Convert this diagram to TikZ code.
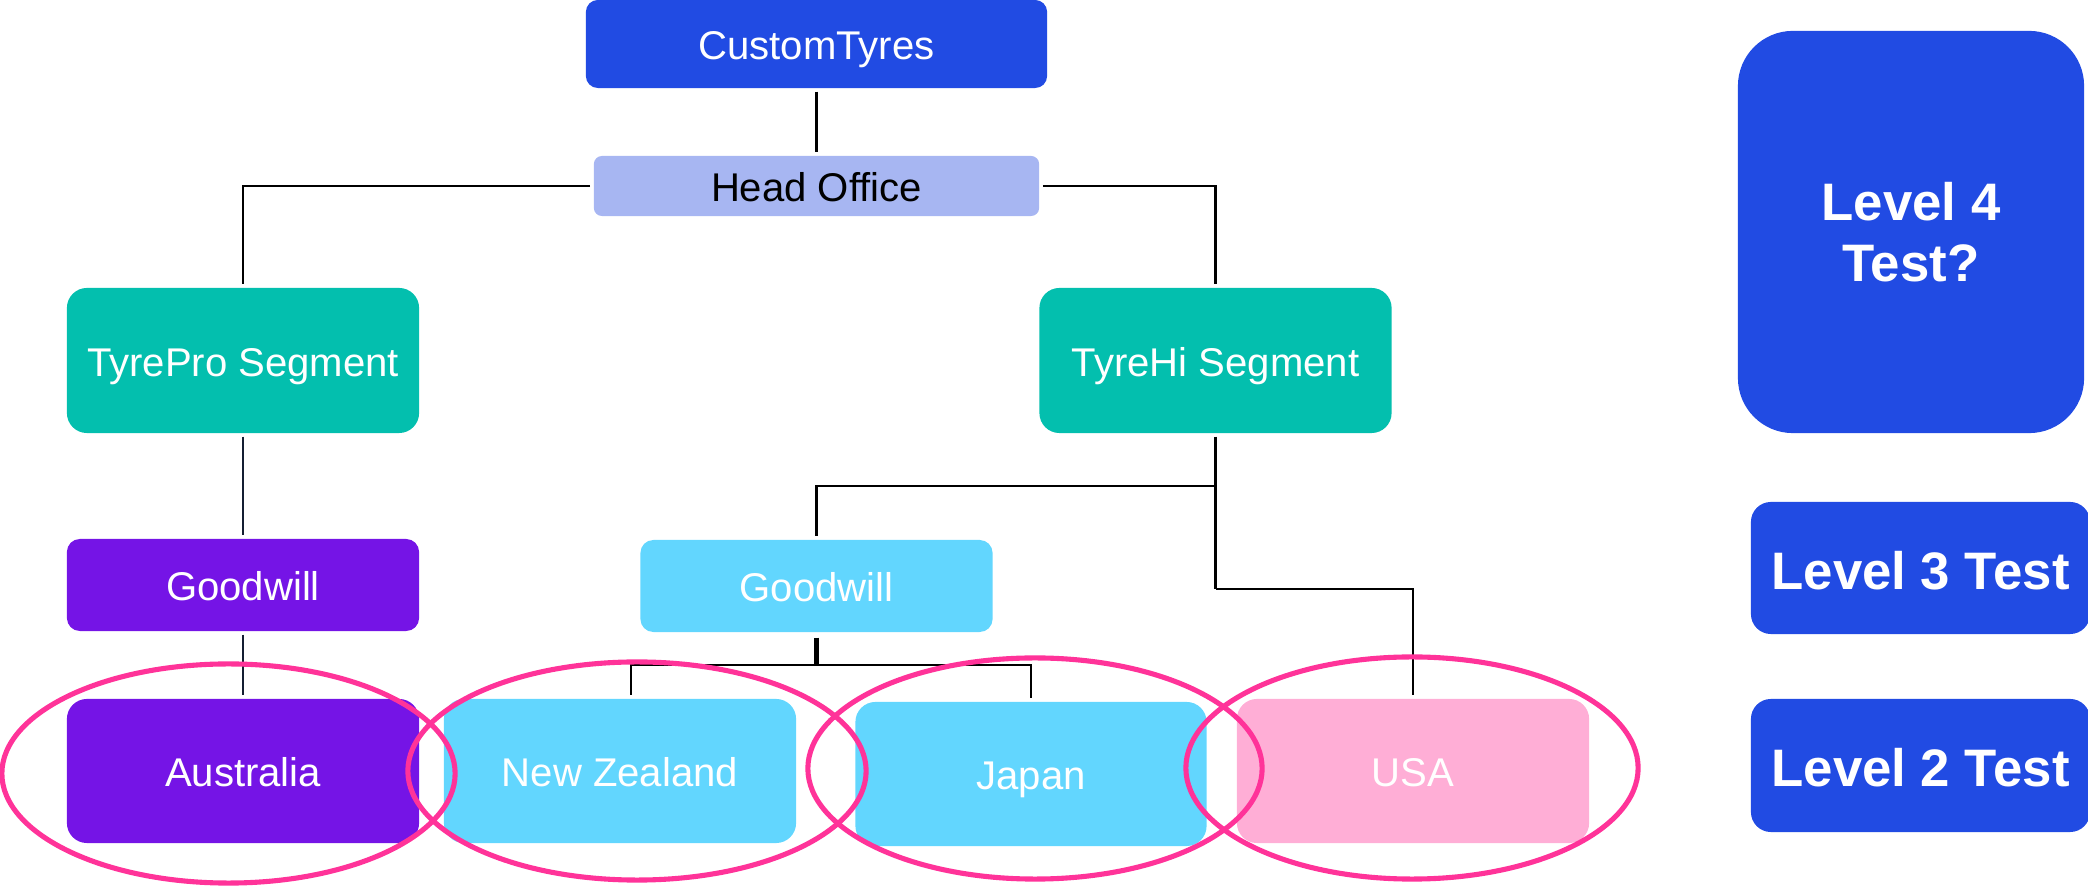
\documentclass[tikz,border=0pt]{standalone}
\usepackage{fontspec}
\setmainfont{Liberation Sans}
\definecolor{ctblue}{RGB}{33,75,227}
\definecolor{hoblue}{RGB}{167,182,242}
\definecolor{segteal}{RGB}{3,191,174}
\definecolor{gwpurple}{RGB}{117,20,230}
\definecolor{gwsky}{RGB}{98,214,254}
\definecolor{usapink}{RGB}{255,174,214}
\definecolor{ringpink}{RGB}{255,51,153}
\definecolor{navyline}{RGB}{20,30,50}
\begin{document}
\begin{tikzpicture}[x=0.01cm,y=-0.01cm,
  box/.style={rectangle, inner sep=0pt, text=white, align=center,
    font=\fontsize{11.4}{13.7}\selectfont},
  oneline/.style={text height=11.9pt, text depth=2.8pt},
  bigline/.style={text height=15.75pt, text depth=3.75pt},
  unit/.style={box, oneline, minimum width=3.52cm, minimum height=1.45cm, rounded corners=0.2cm},
  gw/.style={box, oneline, minimum width=3.52cm, minimum height=0.92cm, rounded corners=0.13cm},
  lvl/.style={box, fill=ctblue, font=\fontsize{15}{17.2}\selectfont\bfseries},
  link/.style={line width=0.6pt, black, shorten <=0.03cm, shorten >=0.03cm},
  ring/.style={draw=ringpink, line width=1.45pt}
]
\useasboundingbox (0,0) rectangle (2088,886);

% company and head office
\node[box, oneline, fill=ctblue, minimum width=4.61cm, minimum height=0.88cm, rounded corners=0.12cm] (ct) at (816.5,44) {CustomTyres};
\node[box, oneline, fill=hoblue, text=black, minimum width=4.45cm, minimum height=0.6cm, rounded corners=0.08cm] (ho) at (816.5,186) {Head Office};

% segments
\node[unit, fill=segteal] (tp) at (243,360.5) {TyrePro Segment};
\node[unit, fill=segteal] (th) at (1215.5,360.5) {TyreHi Segment};

% goodwill
\node[gw, fill=gwpurple] (gw1) at (243,585) {Goodwill};
\node[gw, fill=gwsky] (gw2) at (816.5,586) {Goodwill};

% countries
\node[unit, fill=gwpurple, minimum height=1.44cm] (au) at (243,771) {Australia};
\node[unit, fill=gwsky, minimum height=1.44cm] (nz) at (620,771) {New Zealand};
\node[unit, fill=gwsky, minimum width=3.51cm, minimum height=1.44cm] (jp) at (1031,774) {Japan};
\node[unit, fill=usapink, minimum height=1.44cm] (us) at (1413,771) {USA};

% test levels
\node[lvl, minimum width=3.46cm, minimum height=4.02cm, rounded corners=0.55cm] (l4) at (1911,232) {Level 4\\Test?};
\node[lvl, bigline, minimum width=3.39cm, minimum height=1.32cm, rounded corners=0.2cm] (l3) at (1920.5,568) {Level 3 Test};
\node[lvl, bigline, minimum width=3.39cm, minimum height=1.33cm, rounded corners=0.2cm] (l2) at (1920.5,765.5) {Level 2 Test};

% connectors
\draw[link] (ct.south) -- (ho.north);
\draw[link] (ho.west) -| (tp.north);
\draw[link] (ho.east) -| (th.north);
\draw[link, navyline] (tp.south) -- (gw1.north);
\draw[link, navyline] (gw1.south) -- (au.north);

\coordinate (j1) at (1215.5,486);
\coordinate (j2) at (1215.5,589);
\draw[link, shorten >=0pt] (th.south) -- (j1);
\draw[link, shorten <=0pt] (j1) -| (gw2.north);
\draw[link, shorten <=0pt, shorten >=0pt] (j1) -- (j2);
\draw[link, shorten <=0pt] (j2) -| (us.north);

\coordinate (b1) at (816.5,665);
\draw[line width=1.2pt, black, shorten <=0.05cm] (gw2.south) -- (b1);
\draw[link, shorten <=0pt] (b1) -| ([xshift=0.11cm]nz.north);
\draw[link, shorten <=0pt] (b1) -| (jp.north);

% highlighted groups
\draw[ring] (228.5,773.5) ellipse [x radius=2.265cm, y radius=1.095cm];
\draw[ring] (637,771) ellipse [x radius=2.29cm, y radius=1.09cm];
\draw[ring] (1035,768.5) ellipse [x radius=2.27cm, y radius=1.105cm];
\draw[ring] (1412,768) ellipse [x radius=2.26cm, y radius=1.11cm];
\end{tikzpicture}
\end{document}
